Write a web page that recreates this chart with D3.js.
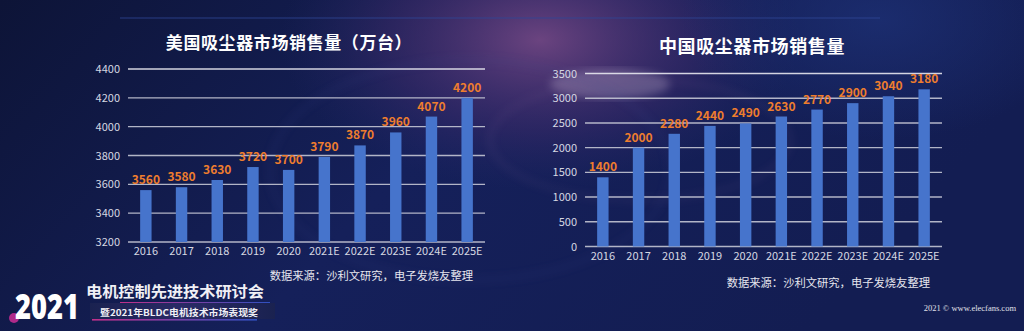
<!DOCTYPE html>
<html><head><meta charset="utf-8">
<script src="https://cdn.jsdelivr.net/npm/d3@7"></script>
<style>html,body{margin:0;padding:0;background:#0f1740;}svg{display:block;}</style>
</head><body><svg id="c" width="1024" height="331"></svg>
<script>
const years = ["2016","2017","2018","2019","2020","2021E","2022E","2023E","2024E","2025E"];
const usSales = [3560,3580,3630,3720,3700,3790,3870,3960,4070,4200];
const cnSales = [1400,2000,2280,2440,2490,2630,2770,2900,3040,3180];
const usTicks = [3200,3400,3600,3800,4000,4200,4400];
const cnTicks = [0,500,1000,1500,2000,2500,3000,3500];
const usTitle = "美国吸尘器市场销售量（万台）";
const cnTitle = "中国吸尘器市场销售量";
const sourceText = "数据来源：沙利文研究，电子发烧友整理";

const svg = d3.select("#c");
const defs = svg.append("defs");
const F = "'Noto Sans CJK SC','Noto Sans',sans-serif";

// background
const bg = defs.append("linearGradient").attr("id","bg").attr("x1",0).attr("x2",1).attr("y1",0).attr("y2",0.3);
bg.append("stop").attr("offset","0%").attr("stop-color","#0d1437");
bg.append("stop").attr("offset","50%").attr("stop-color","#15205a");
bg.append("stop").attr("offset","100%").attr("stop-color","#131d52");
svg.append("rect").attr("width",1024).attr("height",331).attr("fill","url(#bg)");
const glow = defs.append("radialGradient").attr("id","glow");
glow.append("stop").attr("offset","0%").attr("stop-color","#7a4a86").attr("stop-opacity",0.85);
glow.append("stop").attr("offset","60%").attr("stop-color","#4a2f70").attr("stop-opacity",0.4);
glow.append("stop").attr("offset","100%").attr("stop-color","#2a2a6a").attr("stop-opacity",0);
svg.append("ellipse").attr("cx",540).attr("cy",40).attr("rx",260).attr("ry",150).attr("fill","url(#glow)");
const glow2 = defs.append("radialGradient").attr("id","glow2");
glow2.append("stop").attr("offset","0%").attr("stop-color","#1e3278").attr("stop-opacity",0.7);
glow2.append("stop").attr("offset","100%").attr("stop-color","#1e3278").attr("stop-opacity",0);
svg.append("ellipse").attr("cx",880).attr("cy",20).attr("rx",200).attr("ry",120).attr("fill","url(#glow2)");
defs.append("filter").attr("id","blur").append("feGaussianBlur").attr("stdDeviation",4);
svg.append("ellipse").attr("cx",610).attr("cy",84).attr("rx",60).attr("ry",15).attr("fill","#b8a8c8").attr("opacity",0.35).attr("filter","url(#blur)");
svg.append("ellipse").attr("cx",470).attr("cy",170).attr("rx",200).attr("ry",110).attr("fill","none").attr("stroke","#3a4a90").attr("stroke-width",2).attr("opacity",0.35).attr("filter","url(#blur)");
svg.append("ellipse").attr("cx",640).attr("cy",140).attr("rx",150).attr("ry",60).attr("fill","none").attr("stroke","#7a5a90").attr("stroke-width",2).attr("opacity",0.35).attr("filter","url(#blur)");
// top thin line
svg.append("line").attr("x1",120).attr("x2",880).attr("y1",18).attr("y2",18).attr("stroke","#2e4796").attr("stroke-width",1).attr("opacity",0.8);

function chart(cfg){
  const g = svg.append("g");
  const x = d3.scaleBand().domain(years).range([cfg.x0,cfg.x1]).paddingInner(0.68).paddingOuter(0.34);
  const y = d3.scaleLinear().domain([cfg.ticks[0],cfg.ticks[cfg.ticks.length-1]]).range([cfg.y0,cfg.y1]);
  // grid
  g.selectAll("line.grid").data(cfg.ticks).join("line")
    .attr("x1",cfg.x0).attr("x2",cfg.x1)
    .attr("y1",d=>y(d)).attr("y2",d=>y(d))
    .attr("stroke",(d,i)=> i===cfg.ticks.length-1 ? "#e8e8f0" : "#c4c6d4")
    .attr("stroke-width",1.4).attr("opacity",0.9);
  // y labels
  const ya = d3.axisLeft(y).tickValues(cfg.ticks).tickFormat(d3.format("d")).tickSize(0).tickPadding(cfg.x0 - cfg.labelX);
  const yg = g.append("g").attr("transform",`translate(${cfg.x0},0)`).call(ya);
  yg.select(".domain").remove();
  yg.selectAll("text").attr("fill","#d6d8e2").attr("font-size",11).attr("font-family",F);
  // bars
  g.selectAll("rect.bar").data(cfg.vals).join("rect")
    .attr("x",(d,i)=>x(years[i])).attr("width",x.bandwidth())
    .attr("y",d=>y(d)).attr("height",d=>cfg.y0 - y(d))
    .attr("fill","#4674cc");
  // values
  g.selectAll("text.val").data(cfg.vals).join("text")
    .attr("x",(d,i)=>x(years[i])+x.bandwidth()/2).attr("y",d=>y(d)-6)
    .attr("text-anchor","middle").attr("fill","#ee7d2e").attr("font-size",12).attr("font-weight",600)
    .attr("font-family",F).text(d=>d);
  // x labels
  const xa = d3.axisBottom(x).tickSize(0).tickPadding(cfg.xlabPad);
  const xg = g.append("g").attr("transform",`translate(0,${cfg.y0})`).call(xa);
  xg.select(".domain").remove();
  xg.selectAll("text").attr("fill","#d6d8e2").attr("font-size",11).attr("font-family",F);
  // title
  g.append("text").attr("x",cfg.titleX).attr("y",cfg.titleY).attr("text-anchor","middle")
    .attr("fill","#ffffff").attr("font-size",cfg.titleSize).attr("font-weight","bold").attr("font-family",F)
    .attr("letter-spacing",0.6).text(cfg.title);
  g.append("text").attr("x",cfg.x1-12).attr("y",cfg.srcY).attr("text-anchor","end")
    .attr("fill","#e6e6ee").attr("font-size",11.3).attr("font-family",F).text(sourceText);
}
chart({x0:128,x1:485,y0:242,y1:69,labelX:120,ticks:usTicks,vals:usSales,title:usTitle,titleX:289,titleY:49,titleSize:17,srcY:280,xlabPad:5});
chart({x0:585,x1:942,y0:246.5,y1:73.5,labelX:577,ticks:cnTicks,vals:cnSales,title:cnTitle,titleX:752,titleY:53,titleSize:18,srcY:287,xlabPad:6});

// footer
svg.append("text").attr("x",1016).attr("y",311).attr("text-anchor","end").attr("fill","#e0e0e8")
  .attr("font-size",8.5).attr("font-family","'Liberation Serif','DejaVu Serif',serif").text("2021 © www.elecfans.com");

// logo
svg.append("circle").attr("cx",14).attr("cy",318).attr("r",5).attr("fill","#b02a8a");
svg.append("text").attr("x",15).attr("y",319).attr("fill","#ffffff").attr("font-size",36).attr("font-weight",900)
  .attr("font-family","'Noto Sans','DejaVu Sans',sans-serif").attr("textLength",64).attr("lengthAdjust","spacingAndGlyphs").text("2021");
const band = defs.append("linearGradient").attr("id","band");
band.append("stop").attr("offset","0%").attr("stop-color","#1a2250");
band.append("stop").attr("offset","50%").attr("stop-color","#2a2a66");
band.append("stop").attr("offset","100%").attr("stop-color","#1a2250");
svg.append("rect").attr("x",90).attr("y",303).attr("width",185).attr("height",16).attr("fill","url(#band)");
const ul = defs.append("linearGradient").attr("id","ul");
ul.append("stop").attr("offset","0%").attr("stop-color","#c0308a");
ul.append("stop").attr("offset","100%").attr("stop-color","#3050c0");
svg.append("rect").attr("x",92).attr("y",319).attr("width",165).attr("height",1.6).attr("fill","url(#ul)");
svg.append("rect").attr("x",120).attr("y",302).attr("width",150).attr("height",1).attr("fill","url(#ul)");
svg.append("text").attr("x",86).attr("y",297).attr("fill","#f0f0f5").attr("font-size",15).attr("font-weight","bold")
  .attr("font-family",F).attr("textLength",178).attr("lengthAdjust","spacingAndGlyphs").text("电机控制先进技术研讨会");
svg.append("text").attr("x",100).attr("y",315.5).attr("fill","#f0f0f5").attr("font-size",9).attr("font-weight","bold")
  .attr("font-family",F).attr("textLength",158).attr("lengthAdjust","spacingAndGlyphs").text("暨2021年BLDC电机技术市场表现奖");
</script></body></html>
